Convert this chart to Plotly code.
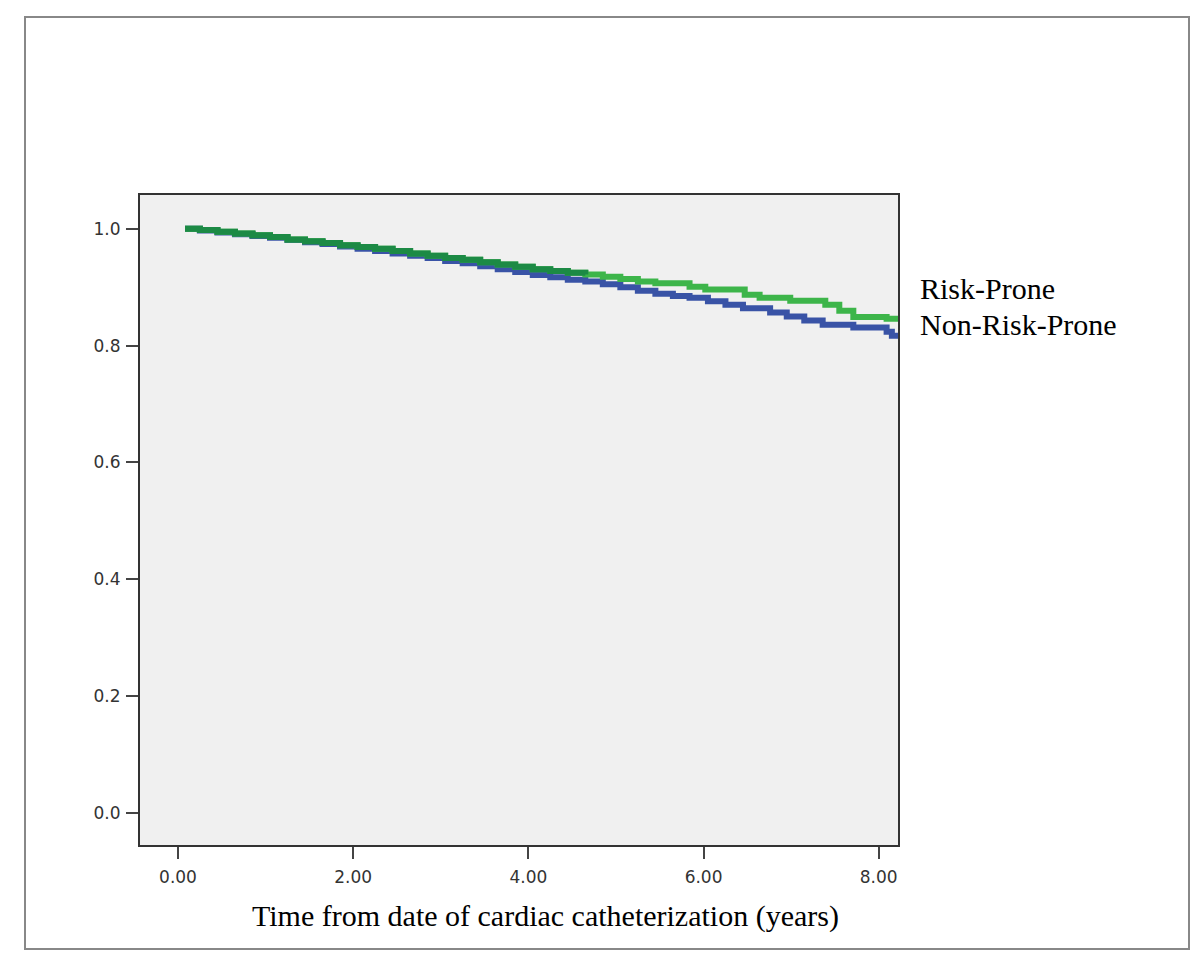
import plotly.graph_objects as go

# Kaplan-Meier style survival estimates
risk_prone_t = [0.08, 0.25, 0.45, 0.65, 0.85, 1.05, 1.25, 1.45, 1.65, 1.85, 2.05, 2.25,
                2.45, 2.65, 2.85, 3.05, 3.25, 3.45, 3.65, 3.85, 4.05, 4.25, 4.45, 4.65,
                4.85, 5.05, 5.25, 5.45, 5.84, 6.02, 6.47, 6.64, 6.99, 7.39, 7.55, 7.71,
                8.09, 8.22]
risk_prone_s = [1.000, 0.998, 0.995, 0.992, 0.989, 0.986, 0.982, 0.979, 0.976, 0.972, 0.969, 0.966,
                0.962, 0.958, 0.954, 0.950, 0.947, 0.943, 0.939, 0.935, 0.931, 0.928, 0.925, 0.922,
                0.918, 0.914, 0.910, 0.907, 0.901, 0.896, 0.887, 0.882, 0.877, 0.870, 0.860, 0.849,
                0.846, 0.846]

non_risk_t = [0.08, 0.25, 0.45, 0.65, 0.85, 1.05, 1.25, 1.45, 1.65, 1.85, 2.05, 2.25,
              2.45, 2.65, 2.85, 3.05, 3.25, 3.45, 3.65, 3.85, 4.05, 4.25, 4.45, 4.65,
              4.85, 5.05, 5.25, 5.45, 5.65, 5.84, 6.05, 6.25, 6.45, 6.76, 6.95, 7.15,
              7.36, 7.71, 8.09, 8.15, 8.22]
non_risk_s = [1.000, 0.997, 0.994, 0.991, 0.988, 0.985, 0.981, 0.977, 0.974, 0.970, 0.966, 0.962,
              0.958, 0.954, 0.950, 0.945, 0.941, 0.936, 0.931, 0.926, 0.921, 0.917, 0.913, 0.910,
              0.905, 0.900, 0.894, 0.889, 0.885, 0.882, 0.876, 0.870, 0.864, 0.857, 0.850, 0.843,
              0.836, 0.831, 0.824, 0.817, 0.817]

series_names = ["Risk-Prone", "Non-Risk-Prone"]
x_ticks = [0, 2, 4, 6, 8]
x_tick_labels = ["0.00", "2.00", "4.00", "6.00", "8.00"]
y_ticks = [0.0, 0.2, 0.4, 0.6, 0.8, 1.0]
y_tick_labels = ["0.0", "0.2", "0.4", "0.6", "0.8", "1.0"]
x_title = "Time from date of cardiac catheterization (years)"

GREEN = "#3db54a"
DARK_GREEN = "#1c8a45"
BLUE = "#3953a6"

fig = go.Figure()
fig.add_trace(go.Scatter(x=non_risk_t, y=non_risk_s, mode="lines", line_shape="hv",
                         line=dict(color=BLUE, width=6), name=series_names[1],
                         showlegend=False))
fig.add_trace(go.Scatter(x=risk_prone_t, y=risk_prone_s, mode="lines", line_shape="hv",
                         line=dict(color=GREEN, width=6), name=series_names[0],
                         showlegend=False))
# darker look where the curves overlap (early part)
early_t = [t for t in risk_prone_t if t <= 4.75]
early_s = risk_prone_s[:len(early_t)]
fig.add_trace(go.Scatter(x=early_t, y=early_s, mode="lines", line_shape="hv",
                         line=dict(color=DARK_GREEN, width=6), showlegend=False,
                         hoverinfo="skip"))

OFF = 8  # page body margin
W, H = 1200 - OFF, 968 - OFF
L, R, T, B = 140 - OFF, 302, 195 - OFF, 123
pw, ph = W - L - R, H - T - B

def px(x):
    return (x - OFF - L) / pw

def py(y):
    return (H - B - (y - OFF)) / ph

axis_common = dict(showline=True, linecolor="#333333", linewidth=2, mirror=True,
                   ticks="outside", ticklen=12, tickwidth=2, tickcolor="#444444",
                   showgrid=False, zeroline=False,
                   tickfont=dict(family="DejaVu Sans", size=17, color="#333333"))

fig.update_xaxes(range=[-0.434, 8.22], tickvals=x_ticks, ticktext=x_tick_labels,
                 ticklabelstandoff=4, **axis_common)
fig.update_yaxes(range=[-0.055, 1.058], tickvals=y_ticks, ticktext=y_tick_labels,
                 ticklabelstandoff=2, **axis_common)

fig.add_annotation(text=series_names[0], xref="paper", yref="paper", x=px(918), y=py(288),
                   xanchor="left", yanchor="middle", showarrow=False,
                   font=dict(family="Liberation Serif", size=30, color="black"))
fig.add_annotation(text=series_names[1], xref="paper", yref="paper", x=px(918), y=py(324),
                   xanchor="left", yanchor="middle", showarrow=False,
                   font=dict(family="Liberation Serif", size=30, color="black"))
fig.add_annotation(text=x_title, xref="paper", yref="paper", x=px(545), y=py(916),
                   xanchor="center", yanchor="middle", showarrow=False,
                   font=dict(family="Liberation Serif", size=30, color="black"))

fig.add_shape(type="rect", xref="paper", yref="paper",
              x0=px(25), x1=px(1189), y0=py(949), y1=py(17),
              line=dict(color="#888888", width=2), fillcolor="rgba(0,0,0,0)", layer="below")

fig.update_layout(width=W, height=H, margin=dict(l=L, r=R, t=T, b=B),
                  plot_bgcolor="#f0f0f0", paper_bgcolor="white", showlegend=False)

fig.write_html("out.html")
